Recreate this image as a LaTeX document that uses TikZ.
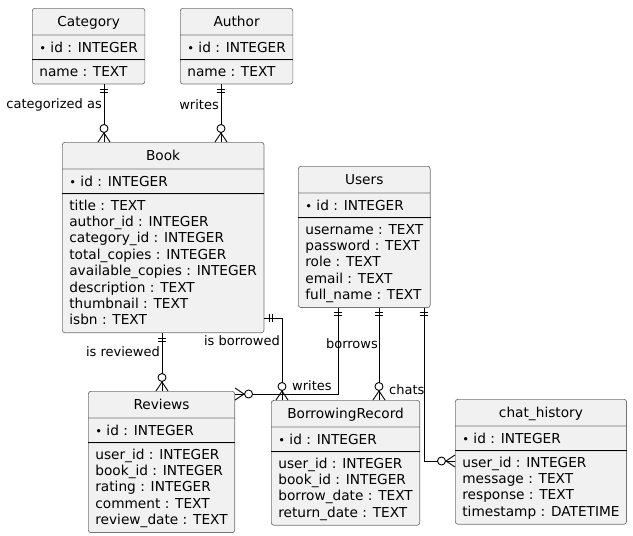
\documentclass[tikz,border=0pt]{standalone}
\usepackage{fontspec}
\setmainfont{DejaVu Sans}
\usetikzlibrary{shapes.multipart}
\definecolor{entityfill}{HTML}{F1F1F1}
\newcommand{\enttitle}[1]{\rule[-8pt]{0pt}{26pt}#1}
\newcommand{\entkey}[1]{\rule[-7pt]{0pt}{24pt}{\fontsize{11.5}{11.5}\selectfont\raisebox{0.4pt}{\textbullet}}\ #1}
\newcommand{\entattrs}[1]{\begin{tabular}{@{}l@{}}\rule{0pt}{16pt}#1\rule[-7.5pt]{0pt}{0pt}\end{tabular}}
\begin{document}
\begin{tikzpicture}[x=1pt, y=-1pt,
        entity/.style={rectangle split, rectangle split parts=3,
            rectangle split part align={center,left,left},
            draw=black!55, line width=0.7pt, fill=entityfill, rounded corners=2.5pt,
            inner xsep=7pt, inner ysep=0pt, anchor=north west,
            font=\fontsize{13.7}{16.4}\selectfont},
        keyline/.style={black, line width=1pt},
        rel/.style={draw=black, line width=0.9pt},
        rellabel/.style={font=\fontsize{13}{15}\selectfont, inner sep=0pt},
        onemark/.pic={\draw[line width=0.9pt] (5pt,-4pt) -- (5pt,4pt) (8pt,-4pt) -- (8pt,4pt);},
        manymark/.pic={\draw[line width=0.9pt] (0pt,-6pt) -- (9pt,0pt) -- (0pt,6pt);
            \draw[line width=0.9pt, fill=white] (13.5pt,0pt) circle (4pt);},
        ]
    \useasboundingbox (0,0) rectangle (633,536);

    % entities
    \node (category) [entity] at (32,8) {\enttitle{Category}
        \nodepart{two}\entkey{id : INTEGER}
        \nodepart{three}\entattrs{name : TEXT}};
    \node (author) [entity] at (180,8) {\enttitle{Author}
        \nodepart{two}\entkey{id : INTEGER}
        \nodepart{three}\entattrs{name : TEXT}};
    \node (book) [entity] at (62,142) {\enttitle{Book}
        \nodepart{two}\entkey{id : INTEGER}
        \nodepart{three}\entattrs{title : TEXT\\ author\_id : INTEGER\\ category\_id : INTEGER\\
            total\_copies : INTEGER\\ available\_copies : INTEGER\\ description : TEXT\\
            thumbnail : TEXT\\ isbn : TEXT}};
    \node (users) [entity] at (298,166) {\enttitle{Users}
        \nodepart{two}\entkey{id : INTEGER}
        \nodepart{three}\entattrs{username : TEXT\\ password : TEXT\\ role : TEXT\\
            email : TEXT\\ full\_name : TEXT}};
    \node (reviews) [entity] at (88,391) {\enttitle{Reviews}
        \nodepart{two}\entkey{id : INTEGER}
        \nodepart{three}\entattrs{user\_id : INTEGER\\ book\_id : INTEGER\\ rating : INTEGER\\
            comment : TEXT\\ review\_date : TEXT}};
    \node (borrowing) [entity] at (271,400) {\enttitle{BorrowingRecord}
        \nodepart{two}\entkey{id : INTEGER}
        \nodepart{three}\entattrs{user\_id : INTEGER\\ book\_id : INTEGER\\
            borrow\_date : TEXT\\ return\_date : TEXT}};
    \node (chathistory) [entity] at (455,399) {\enttitle{chat\_history}
        \nodepart{two}\entkey{id : INTEGER}
        \nodepart{three}\entattrs{user\_id : INTEGER\\ message : TEXT\\ response : TEXT\\
            timestamp : DATETIME}};

    % key separators
    \foreach \e in {category,author,book,users,reviews,borrowing,chathistory}
        \draw[keyline] (\e.two split west) -- (\e.two split east);

    % relations
    \draw[rel] (category.south -| 104,0) -- (book.north -| 104,0);
    \pic[rotate=-90] at (category.south -| 104,0) {onemark};
    \pic[rotate=90] at (book.north -| 104,0) {manymark};
    \node (catlabel) [rellabel, anchor=east] at (102,105) {categorized as};

    \draw[rel] (author.south -| 221,0) -- (book.north -| 221,0);
    \pic[rotate=-90] at (author.south -| 221,0) {onemark};
    \pic[rotate=90] at (book.north -| 221,0) {manymark};
    \node (authlabel) [rellabel, anchor=east] at (219,105) {writes};

    \draw[rel] (book.south -| 162,0) -- (reviews.north -| 162,0);
    \pic[rotate=-90] at (book.south -| 162,0) {onemark};
    \pic[rotate=90] at (reviews.north -| 162,0) {manymark};
    \node (revlabel) [rellabel, anchor=east] at (160,352) {is reviewed};

    \draw[rel] (book.east |- 0,318) -| (borrowing.north -| 282,0);
    \pic at (book.east |- 0,318) {onemark};
    \pic[rotate=90] at (borrowing.north -| 282,0) {manymark};
    \node (borlabel) [rellabel, anchor=east] at (280,341) {is borrowed};

    \draw[rel] (users.south -| 338,0) |- (reviews.east |- 0,394);
    \pic[rotate=-90] at (users.south -| 338,0) {onemark};
    \pic at (reviews.east |- 0,394) {manymark};
    \node (uwlabel) [rellabel, anchor=west] at (292,386) {writes};

    \draw[rel] (users.south -| 379,0) -- (borrowing.north -| 379,0);
    \pic[rotate=-90] at (users.south -| 379,0) {onemark};
    \pic[rotate=90] at (borrowing.north -| 379,0) {manymark};
    \node (ublabel) [rellabel, anchor=east] at (378,344) {borrows};

    \draw[rel] (users.south -| 424,0) |- (chathistory.west |- 0,461);
    \pic[rotate=-90] at (users.south -| 424,0) {onemark};
    \pic[rotate=180] at (chathistory.west |- 0,461) {manymark};
    \node (uclabel) [rellabel, anchor=west] at (389,390) {chats};
\end{tikzpicture}
\end{document}
